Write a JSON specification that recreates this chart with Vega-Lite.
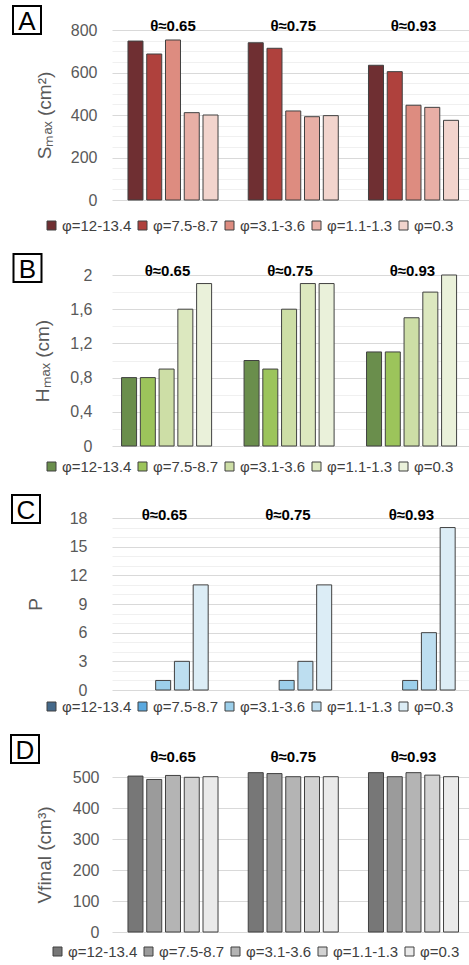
{
  "$schema": "https://vega.github.io/schema/vega-lite/v6.json",
  "padding": {"left": 7, "top": 2, "right": 0, "bottom": 0},
  "spacing": 16,
  "config": {
    "font": "Liberation Sans",
    "view": {"stroke": null},
    "axis": {"domain": false, "ticks": false, "tickSize": 0, "labelFont": "Liberation Sans", "titleFont": "Liberation Sans"},
    "axisY": {"labelFontSize": 16, "labelColor": "#595959", "titleFontSize": 19, "titleFontWeight": "normal", "titleColor": "#595959"},
    "axisX": {"labelFontSize": 15, "labelFontWeight": "bold", "labelColor": "#000000", "labelAngle": 0, "labelBaseline": "middle", "grid": false, "title": null},
    "legend": {"orient": "none", "direction": "horizontal", "columns": 5, "gridAlign": "none", "title": null, "symbolType": "square", "symbolSize": 81, "symbolStrokeColor": "#404040", "symbolStrokeWidth": 1, "labelFontSize": 15, "labelColor": "#404040", "labelOffset": 3, "columnPadding": 3, "padding": 0, "labelFont": "Liberation Sans"}
  },
  "datasets": {
    "A": [
      {"theta": "θ≈0.65", "phi": "φ=12-13.4", "value": 748},
      {"theta": "θ≈0.65", "phi": "φ=7.5-8.7", "value": 687},
      {"theta": "θ≈0.65", "phi": "φ=3.1-3.6", "value": 753},
      {"theta": "θ≈0.65", "phi": "φ=1.1-1.3", "value": 411},
      {"theta": "θ≈0.65", "phi": "φ=0.3", "value": 400},
      {"theta": "θ≈0.75", "phi": "φ=12-13.4", "value": 740},
      {"theta": "θ≈0.75", "phi": "φ=7.5-8.7", "value": 714},
      {"theta": "θ≈0.75", "phi": "φ=3.1-3.6", "value": 419},
      {"theta": "θ≈0.75", "phi": "φ=1.1-1.3", "value": 392},
      {"theta": "θ≈0.75", "phi": "φ=0.3", "value": 397},
      {"theta": "θ≈0.93", "phi": "φ=12-13.4", "value": 634},
      {"theta": "θ≈0.93", "phi": "φ=7.5-8.7", "value": 604},
      {"theta": "θ≈0.93", "phi": "φ=3.1-3.6", "value": 446},
      {"theta": "θ≈0.93", "phi": "φ=1.1-1.3", "value": 436},
      {"theta": "θ≈0.93", "phi": "φ=0.3", "value": 375}
    ],
    "B": [
      {"theta": "θ≈0.65", "phi": "φ=12-13.4", "value": 0.8},
      {"theta": "θ≈0.65", "phi": "φ=7.5-8.7", "value": 0.8},
      {"theta": "θ≈0.65", "phi": "φ=3.1-3.6", "value": 0.9},
      {"theta": "θ≈0.65", "phi": "φ=1.1-1.3", "value": 1.6},
      {"theta": "θ≈0.65", "phi": "φ=0.3", "value": 1.9},
      {"theta": "θ≈0.75", "phi": "φ=12-13.4", "value": 1.0},
      {"theta": "θ≈0.75", "phi": "φ=7.5-8.7", "value": 0.9},
      {"theta": "θ≈0.75", "phi": "φ=3.1-3.6", "value": 1.6},
      {"theta": "θ≈0.75", "phi": "φ=1.1-1.3", "value": 1.9},
      {"theta": "θ≈0.75", "phi": "φ=0.3", "value": 1.9},
      {"theta": "θ≈0.93", "phi": "φ=12-13.4", "value": 1.1},
      {"theta": "θ≈0.93", "phi": "φ=7.5-8.7", "value": 1.1},
      {"theta": "θ≈0.93", "phi": "φ=3.1-3.6", "value": 1.5},
      {"theta": "θ≈0.93", "phi": "φ=1.1-1.3", "value": 1.8},
      {"theta": "θ≈0.93", "phi": "φ=0.3", "value": 2.0}
    ],
    "C": [
      {"theta": "θ≈0.65", "phi": "φ=12-13.4", "value": 0},
      {"theta": "θ≈0.65", "phi": "φ=7.5-8.7", "value": 0},
      {"theta": "θ≈0.65", "phi": "φ=3.1-3.6", "value": 1},
      {"theta": "θ≈0.65", "phi": "φ=1.1-1.3", "value": 3},
      {"theta": "θ≈0.65", "phi": "φ=0.3", "value": 11},
      {"theta": "θ≈0.75", "phi": "φ=12-13.4", "value": 0},
      {"theta": "θ≈0.75", "phi": "φ=7.5-8.7", "value": 0},
      {"theta": "θ≈0.75", "phi": "φ=3.1-3.6", "value": 1},
      {"theta": "θ≈0.75", "phi": "φ=1.1-1.3", "value": 3},
      {"theta": "θ≈0.75", "phi": "φ=0.3", "value": 11},
      {"theta": "θ≈0.93", "phi": "φ=12-13.4", "value": 0},
      {"theta": "θ≈0.93", "phi": "φ=7.5-8.7", "value": 0},
      {"theta": "θ≈0.93", "phi": "φ=3.1-3.6", "value": 1},
      {"theta": "θ≈0.93", "phi": "φ=1.1-1.3", "value": 6},
      {"theta": "θ≈0.93", "phi": "φ=0.3", "value": 17}
    ],
    "D": [
      {"theta": "θ≈0.65", "phi": "φ=12-13.4", "value": 503},
      {"theta": "θ≈0.65", "phi": "φ=7.5-8.7", "value": 492},
      {"theta": "θ≈0.65", "phi": "φ=3.1-3.6", "value": 505},
      {"theta": "θ≈0.65", "phi": "φ=1.1-1.3", "value": 499},
      {"theta": "θ≈0.65", "phi": "φ=0.3", "value": 501},
      {"theta": "θ≈0.75", "phi": "φ=12-13.4", "value": 514},
      {"theta": "θ≈0.75", "phi": "φ=7.5-8.7", "value": 511},
      {"theta": "θ≈0.75", "phi": "φ=3.1-3.6", "value": 501},
      {"theta": "θ≈0.75", "phi": "φ=1.1-1.3", "value": 501},
      {"theta": "θ≈0.75", "phi": "φ=0.3", "value": 501},
      {"theta": "θ≈0.93", "phi": "φ=12-13.4", "value": 514},
      {"theta": "θ≈0.93", "phi": "φ=7.5-8.7", "value": 501},
      {"theta": "θ≈0.93", "phi": "φ=3.1-3.6", "value": 514},
      {"theta": "θ≈0.93", "phi": "φ=1.1-1.3", "value": 506},
      {"theta": "θ≈0.93", "phi": "φ=0.3", "value": 501}
    ]
  },
  "resolve": {"scale": {"color": "independent", "x": "independent", "y": "independent"}, "legend": {"color": "independent"}},
  "vconcat": [
    {
      "width": 358, "height": 170,
      "layer": [
        {
          "data": {"name": "A"},
          "mark": {"type": "bar", "stroke": "#404040", "strokeWidth": 1},
          "encoding": {
            "x": {"field": "theta", "type": "nominal", "sort": null, "scale": {"paddingInner": 0.22, "paddingOuter": 0.0985, "align": 0.595}, "axis": {"orient": "top", "labelPadding": 5}},
            "xOffset": {"field": "phi", "type": "nominal", "sort": null, "scale": {"paddingInner": 0.2, "paddingOuter": 0.1}},
            "y": {"field": "value", "type": "quantitative", "scale": {"domain": [0, 800], "nice": false},
                  "axis": {"title": "Sₘₐₓ (cm²)", "labelPadding": 15, "titlePadding": 16, "values": [0,50,100,150,200,250,300,350,400,450,500,550,600,650,700,750,800],
                           "labelExpr": "datum.value % 200 === 0 ? datum.label : ''",
                           "gridColor": {"condition": {"test": "datum.value % 200 === 0", "value": "#D9D9D9"}, "value": "#F0F0F0"}}},
            "color": {"field": "phi", "type": "nominal", "sort": null, "scale": {"range": ["#6F2F32", "#AF413D", "#DD8C80", "#E8AFA6", "#F2D4CD"]},
                      "legend": {"legendX": -68, "legendY": 188}}
          }
        },
        {
          "data": {"values": [{"panel": "A"}]},
          "mark": {"type": "point", "shape": "square", "size": 784, "filled": false, "stroke": "#000000", "strokeWidth": 2, "opacity": 1},
          "encoding": {"x": {"value": -85}, "y": {"value": -10}}
        },
        {
          "data": {"values": [{"panel": "A"}]},
          "mark": {"type": "text", "fontSize": 26, "align": "center", "baseline": "middle", "dy": 2, "color": "#000000"},
          "encoding": {"x": {"value": -85}, "y": {"value": -10}, "text": {"field": "panel"}}
        }
      ]
    },
    {
      "width": 358, "height": 171,
      "layer": [
        {
          "data": {"name": "B"},
          "mark": {"type": "bar", "stroke": "#404040", "strokeWidth": 1},
          "encoding": {
            "x": {"field": "theta", "type": "nominal", "sort": null, "scale": {"paddingInner": 0.22, "paddingOuter": 0.0714, "align": 0.44}, "axis": {"orient": "top", "labelPadding": 5}},
            "xOffset": {"field": "phi", "type": "nominal", "sort": null, "scale": {"paddingInner": 0.2, "paddingOuter": 0.1}},
            "y": {"field": "value", "type": "quantitative", "scale": {"domain": [0, 2], "nice": false},
                  "axis": {"title": "Hₘₐₓ (cm)", "labelPadding": 20, "titlePadding": 17, "values": [0,0.2,0.4,0.6,0.8,1,1.2,1.4,1.6,1.8,2],
                           "labelExpr": "round(datum.value*10) % 4 === 0 ? replace(toString(datum.value), '.', ',') : ''",
                           "gridColor": {"condition": {"test": "round(datum.value*10) % 4 === 0", "value": "#D9D9D9"}, "value": "#F0F0F0"}}},
            "color": {"field": "phi", "type": "nominal", "sort": null, "scale": {"range": ["#6A8E4C", "#9CC45B", "#CDDEA6", "#DCE8BF", "#EAF1DA"]},
                      "legend": {"legendX": -68, "legendY": 184}}
          }
        },
        {
          "data": {"values": [{"panel": "B"}]},
          "mark": {"type": "point", "shape": "square", "size": 784, "filled": false, "stroke": "#000000", "strokeWidth": 2, "opacity": 1},
          "encoding": {"x": {"value": -84.5}, "y": {"value": -7}}
        },
        {
          "data": {"values": [{"panel": "B"}]},
          "mark": {"type": "text", "fontSize": 26, "align": "center", "baseline": "middle", "dy": 2, "color": "#000000"},
          "encoding": {"x": {"value": -84.5}, "y": {"value": -7}, "text": {"field": "panel"}}
        }
      ]
    },
    {
      "width": 358, "height": 172,
      "layer": [
        {
          "data": {"name": "C"},
          "mark": {"type": "bar", "stroke": "#404040", "strokeWidth": 1},
          "encoding": {
            "x": {"field": "theta", "type": "nominal", "sort": null, "scale": {"paddingInner": 0.22, "paddingOuter": 0.0595, "align": 0.29}, "axis": {"orient": "top", "labelPadding": 4}},
            "xOffset": {"field": "phi", "type": "nominal", "sort": null, "scale": {"paddingInner": 0.2, "paddingOuter": 0.1}},
            "y": {"field": "value", "type": "quantitative", "scale": {"domain": [0, 18], "nice": false},
                  "axis": {"title": "P", "labelPadding": 25, "titlePadding": 24, "values": [0,1,2,3,4,5,6,7,8,9,10,11,12,13,14,15,16,17,18],
                           "labelExpr": "datum.value % 3 === 0 ? datum.label : ''",
                           "gridColor": {"condition": {"test": "datum.value % 3 === 0", "value": "#D9D9D9"}, "value": "#F0F0F0"}}},
            "strokeOpacity": {"condition": {"test": "datum.value === 0", "value": 0}, "value": 1},
            "color": {"field": "phi", "type": "nominal", "sort": null, "scale": {"range": ["#44698A", "#5BA9DF", "#9CCFEA", "#BDDEF0", "#DCEDF6"]},
                      "legend": {"legendX": -68, "legendY": 181}}
          }
        },
        {
          "data": {"values": [{"panel": "C"}]},
          "mark": {"type": "point", "shape": "square", "size": 784, "filled": false, "stroke": "#000000", "strokeWidth": 2, "opacity": 1},
          "encoding": {"x": {"value": -86}, "y": {"value": -9}}
        },
        {
          "data": {"values": [{"panel": "C"}]},
          "mark": {"type": "text", "fontSize": 26, "align": "center", "baseline": "middle", "dy": 2, "color": "#000000"},
          "encoding": {"x": {"value": -86}, "y": {"value": -9}, "text": {"field": "panel"}}
        }
      ]
    },
    {
      "width": 358, "height": 155,
      "layer": [
        {
          "data": {"name": "D"},
          "mark": {"type": "bar", "stroke": "#404040", "strokeWidth": 1},
          "encoding": {
            "x": {"field": "theta", "type": "nominal", "sort": null, "scale": {"paddingInner": 0.22, "paddingOuter": 0.0985, "align": 0.595}, "axis": {"orient": "top", "labelPadding": 21}},
            "xOffset": {"field": "phi", "type": "nominal", "sort": null, "scale": {"paddingInner": 0.2, "paddingOuter": 0.1}},
            "y": {"field": "value", "type": "quantitative", "scale": {"domain": [0, 500], "nice": false},
                  "axis": {"title": "Vfinal (cm³)", "labelPadding": 13, "titlePadding": 18, "values": [0,100,200,300,400,500], "gridColor": "#D9D9D9"}},
            "color": {"field": "phi", "type": "nominal", "sort": null, "scale": {"range": ["#777777", "#9B9B9B", "#B4B4B4", "#D2D2D2", "#EAEAEA"]},
                      "legend": {"legendX": -62, "legendY": 167}}
          }
        },
        {
          "data": {"values": [{"panel": "D"}]},
          "mark": {"type": "point", "shape": "square", "size": 784, "filled": false, "stroke": "#000000", "strokeWidth": 2, "opacity": 1},
          "encoding": {"x": {"value": -87}, "y": {"value": -28}}
        },
        {
          "data": {"values": [{"panel": "D"}]},
          "mark": {"type": "text", "fontSize": 26, "align": "center", "baseline": "middle", "dy": 2, "color": "#000000"},
          "encoding": {"x": {"value": -87}, "y": {"value": -28}, "text": {"field": "panel"}}
        }
      ]
    }
  ]
}
